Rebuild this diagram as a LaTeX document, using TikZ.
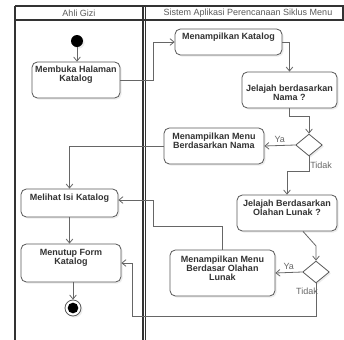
\documentclass[tikz,border=0pt]{standalone}
\usepackage{fontspec}
\setmainfont{Liberation Sans}
\usetikzlibrary{arrows.meta,shapes.geometric,shadows,fit}
\begin{document}
\begin{tikzpicture}[x=0.75pt,y=-0.75pt,
  lane/.style={draw=black!80, line width=1pt},
  act/.style={draw=black!65, rounded corners=4pt, fill=white, line width=0.6pt, inner sep=0pt,
    drop shadow={opacity=0.15, shadow xshift=1.2pt, shadow yshift=-1.2pt}},
  lbl/.style={font=\fontsize{6.75}{6.9}\selectfont\bfseries, text=black!80, align=center, inner sep=0pt},
  dec/.style={diamond, draw=black!65, fill=white, line width=0.6pt, minimum width=20pt,
    minimum height=16.5pt, inner sep=0pt,
    drop shadow={opacity=0.15, shadow xshift=1.2pt, shadow yshift=-1.2pt}},
  flow/.style={draw=black!60, line width=0.6pt, -{Straight Barb[length=3pt,width=5pt]}},
  guard/.style={font=\fontsize{6.75}{8}\selectfont, text=black!60, inner sep=0pt},
  head/.style={font=\fontsize{6.75}{8}\selectfont, text=black!65, inner sep=0pt}]

\useasboundingbox (0,0) rectangle (344,340);

% swimlanes
\draw[lane, line width=1.3pt] (15,340) -- (15,6);
\draw[lane] (15,6) -- (343,6) -- (343,20) -- (15,20);
\draw[lane] (143,6) -- (143,340);
\draw[lane] (145.5,6) -- (145.5,340);
\node[head] (h1) at (79,13.5) {Ahli Gizi};
\node[head] (h2) at (248,13.5) {Sistem Aplikasi Perencanaan Siklus Menu};

% start and end
\node[circle, fill=black, minimum size=9pt, inner sep=0pt,
  drop shadow={opacity=0.15, shadow xshift=1.2pt, shadow yshift=-1.2pt}] (start) at (77,41) {};
\node[circle, draw=black!65, fill=white, line width=0.6pt, minimum size=12pt, inner sep=0pt,
  drop shadow={opacity=0.15, shadow xshift=1.2pt, shadow yshift=-1.2pt}] (end) at (73,308) {};
\node[circle, fill=black, minimum size=8pt, inner sep=0pt] (endc) at (end) {};

% activities
\node[act, fit={(32,62) (120,98)}] (b1) {};
\node[lbl] (t1) at ([yshift=3.75pt]b1.center) {Membuka Halaman\\Katalog};

\node[act, fit={(175,29) (282,55)}] (b2) {};
\node[lbl] (t2) at ([yshift=3.75pt]b2.center) {Menampilkan Katalog};

\node[act, fit={(242,72) (337,108)}] (b3) {};
\node[lbl] (t3) at ([yshift=-2.2pt]b3.center) {Jelajah berdasarkan\\Nama ?};

\node[act, fit={(164,128) (264,164)}] (b4) {};
\node[lbl] (t4) at ([yshift=3.75pt]b4.center) {Menampilkan Menu\\Berdasarkan Nama};

\node[act, fit={(21,189) (118,217)}] (b5) {};
\node[lbl] (t5) at ([yshift=3.75pt]b5.center) {Melihat Isi Katalog};

\node[act, fit={(237,195) (337,231)}] (b6) {};
\node[lbl] (t6) at ([yshift=3.75pt]b6.center) {Jelajah Berdasarkan\\Olahan Lunak ?};

\node[act, fit={(170,250) (275,296)}] (b7) {};
\node[lbl] (t7) at ([yshift=3.75pt]b7.center) {Menampilkan Menu\\Berdasar Olahan\\Lunak};

\node[act, fit={(21,244) (121,282)}] (b8) {};
\node[lbl] (t8) at ([yshift=3.75pt]b8.center) {Menutup Form\\Katalog};

% decisions
\node[dec] (d1) at (309,145) {};
\node[dec] (d2) at (316,272) {};

% flows
\draw[flow] (start) -- (start |- b1.north);
\draw[flow] (b1.east) -- ++(33,0) |- (b2.west);
\draw[flow] (b2.east) -| (b3.north);
\draw[flow] (b3.south) -- ++(0,8) -| (d1.north);
\draw[flow] (d1.west) -- (b4.east) node[guard, pos=0.5, above=2pt] (g1) {Ya};
\draw[flow] (b4.west) -| (b5.north);
\draw[flow] (d1.south) -- ++(0,15) -| (b6.north);
\node[guard, anchor=west] (g2) at (310,165) {Tidak};
\draw[flow] ([xshift=12pt]b6.south) -- ([yshift=11pt]d2.north) -- (d2.north);
\draw[flow] (d2.west) -- (b7.east) node[guard, pos=0.5, above=2pt] (g3) {Ya};
\draw[flow] (b7.north) -- ++(0,-23) -- ++(-69,0) |- ([yshift=2.25pt]b5.east);
\draw[flow] (b5.south) -- (b5.south |- b8.north);
\draw[flow] (d2.south) -- ++(0,33) -- ++(-184,0) |- (b8.east);
\node[guard] (g4) at (307,291) {Tidak};
\draw[flow] (b8.south -| end) -- (end.north);
\end{tikzpicture}
\end{document}
